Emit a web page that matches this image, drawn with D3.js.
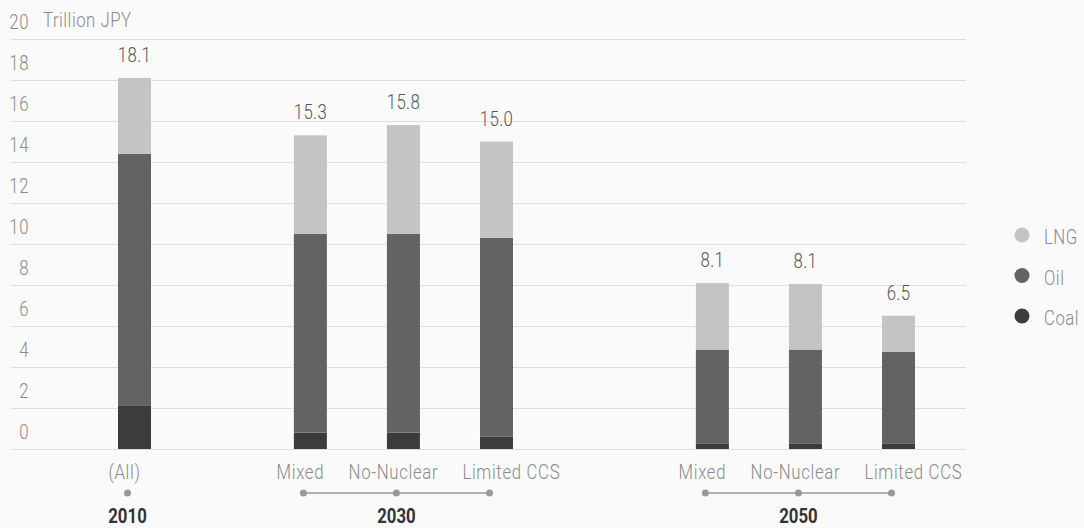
<!DOCTYPE html>
<html>
<head>
<meta charset="utf-8">
<script src="https://cdn.jsdelivr.net/npm/d3@7"></script>
<style>
  body { margin: 0; background: #fafafa; }
  svg { display: block; font-family: Roboto, sans-serif; }
</style>
</head>
<body>
<svg id="chart" width="1084" height="528"></svg>
<script>
// fossil fuel import cost, trillion JPY
var groups = ["2010", "2030", "2050"];
var scenarios = ["(All)", "Mixed", "No-Nuclear", "Limited CCS", "Mixed", "No-Nuclear", "Limited CCS"];
var scenarioGroup = [0, 1, 1, 1, 2, 2, 2];
var coal = [2.1, 0.8, 0.8, 0.6, 0.25, 0.25, 0.25];
var oil = [12.3, 9.7, 9.7, 9.7, 4.6, 4.6, 4.5];
var lng = [3.7, 4.8, 5.3, 4.7, 3.25, 3.2, 1.75];
var totals = ["18.1", "15.3", "15.8", "15.0", "8.1", "8.1", "6.5"];
var fuels = ["Coal", "Oil", "LNG"];
var yTicks = [0, 2, 4, 6, 8, 10, 12, 14, 16, 18, 20];

var colors = { "Coal": "#3c3c3a", "Oil": "#636363", "LNG": "#c4c4c4" };

// gap (in slots) placed before each year group
var groupGap = [0, 1.89, 2.32];
// axis markers sit a bit left of the bars
var axisShift = -7;
var labelGap = 24;

var svg = d3.select("#chart");

// narrow text, no condensed face installed so squeeze it
var squeeze = 0.84;
function place(x, y) {
    return "translate(" + x + "," + y + ") scale(" + squeeze + ",1)";
}

var rows = scenarios.map(function (s, i) {
    return { i: i, name: s, group: scenarioGroup[i], Coal: coal[i], Oil: oil[i], LNG: lng[i], total: totals[i] };
});

// slot position of each bar
var slot = 0;
rows.forEach(function (d, i) {
    if (i > 0) {
        slot += (d.group !== rows[i - 1].group) ? groupGap[d.group] : 1;
    }
    d.slot = slot;
});

var x = d3.scaleLinear()
    .domain([0, slot])
    .range([134.5, 898.5]);

var y = d3.scaleLinear()
    .domain([0, 20])
    .range([449, 39]);

var barW = 33;

// grid
svg.append("g").selectAll("line").data(yTicks)
    .enter().append("line")
    .attr("x1", 11).attr("x2", 966)
    .attr("y1", function (d) { return y(d) + 0.5; })
    .attr("y2", function (d) { return y(d) + 0.5; })
    .style("stroke", "#dedede").style("stroke-width", 1);

svg.append("g").selectAll("text").data(yTicks)
    .enter().append("text")
    .attr("transform", function (d) { return place(29, y(d) - 10); })
    .attr("text-anchor", "end")
    .style("font-size", "20px").style("font-weight", 300).style("letter-spacing", "0.6px")
    .style("fill", "#8a8a8a")
    .text(function (d) { return d; });

svg.append("text")
    .attr("transform", place(43, 27))
    .style("font-size", "20px").style("font-weight", 300).style("letter-spacing", "0.6px")
    .style("fill", "#8a8a8a")
    .text("Trillion JPY");

// stacked bars
var stack = d3.stack().keys(fuels)(rows);

svg.append("g").selectAll("g").data(stack)
    .enter().append("g")
    .attr("fill", function (d) { return colors[d.key]; })
    .selectAll("rect").data(function (d) { return d; })
    .enter().append("rect")
    .attr("x", function (d) { return x(d.data.slot) - barW / 2; })
    .attr("width", barW)
    .attr("y", function (d) { return y(d[1]); })
    .attr("height", function (d) { return y(d[0]) - y(d[1]); });

// totals
svg.append("g").selectAll("text").data(rows)
    .enter().append("text")
    .attr("transform", function (d) { return place(x(d.slot), y(d.Coal + d.Oil + d.LNG) - 16); })
    .attr("text-anchor", "middle")
    .style("font-size", "20px").style("font-weight", 300).style("letter-spacing", "0.4px")
    .style("fill", "#555")
    .text(function (d) { return d.total; });

// scenario labels, pushed right when they would collide within a group
var ax = function (d) { return x(d.slot) + axisShift; };

var scen = svg.append("g").selectAll("text").data(rows)
    .enter().append("text")
    .attr("text-anchor", "middle")
    .style("font-size", "20px").style("font-weight", 300).style("letter-spacing", "0.8px")
    .style("fill", "#8a8a8a")
    .text(function (d) { return d.name; });

var prevRight = null, prevGroup = -1;
scen.each(function (d) {
    var w = this.getComputedTextLength() * squeeze;
    var cx = ax(d) - 3;
    if (d.group === prevGroup && cx - w / 2 < prevRight + labelGap) {
        cx = prevRight + labelGap + w / 2;
    }
    prevRight = cx + w / 2;
    prevGroup = d.group;
    d3.select(this).attr("transform", place(cx, 479));
});

// group brackets
var groupInfo = groups.map(function (g, gi) {
    var members = rows.filter(function (d) { return d.group === gi; });
    return {
        name: g,
        first: members[0],
        last: members[members.length - 1]
    };
});

var gg = svg.append("g");
gg.selectAll("line").data(groupInfo)
    .enter().append("line")
    .attr("x1", function (d) { return ax(d.first); })
    .attr("x2", function (d) { return ax(d.last); })
    .attr("y1", 493).attr("y2", 493)
    .style("stroke", "#999").style("stroke-width", 1.3);

gg.selectAll("circle").data(rows)
    .enter().append("circle")
    .attr("cx", ax)
    .attr("cy", 493)
    .attr("r", 3.5)
    .attr("fill", "#999");

gg.selectAll("text").data(groupInfo)
    .enter().append("text")
    .attr("transform", function (d) { return place((ax(d.first) + ax(d.last)) / 2, 523); })
    .attr("text-anchor", "middle")
    .style("font-size", "20px").style("font-weight", 700)
    .style("fill", "#333")
    .text(function (d) { return d.name; });

// legend
var legend = svg.append("g").selectAll("g").data(fuels.slice().reverse())
    .enter().append("g")
    .attr("transform", function (d, i) { return "translate(1022," + (235 + i * 40.5) + ")"; });

legend.append("circle")
    .attr("r", 7.5)
    .attr("fill", function (d) { return colors[d]; });

legend.append("text")
    .attr("transform", place(22, 9))
    .style("font-size", "20px").style("font-weight", 300).style("letter-spacing", "0.6px")
    .style("fill", "#8a8a8a")
    .text(function (d) { return d; });
</script>
</body>
</html>
